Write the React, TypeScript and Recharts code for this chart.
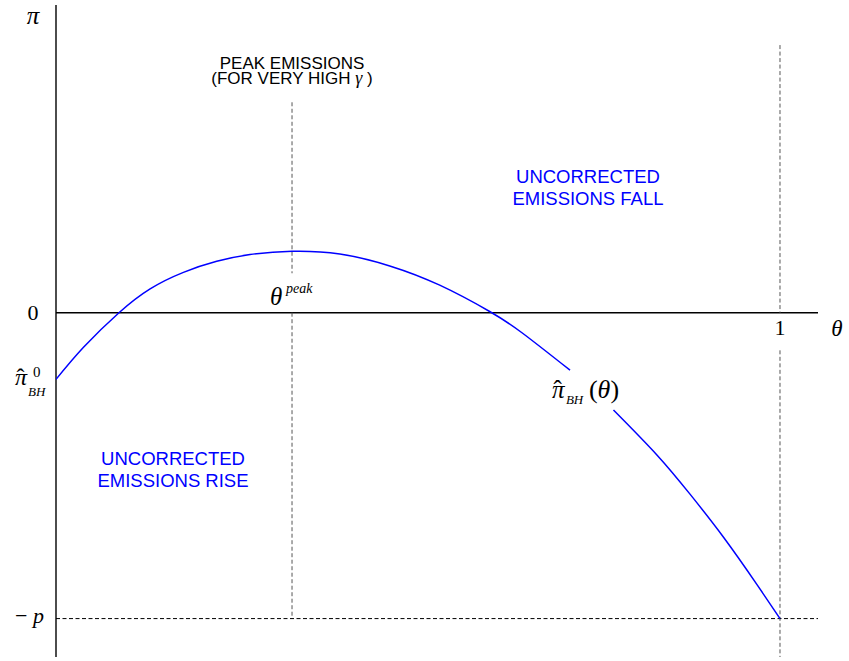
import React from "react";
import { Line, LineChart, ReferenceDot, ReferenceLine, XAxis, YAxis } from "recharts";

// curve pi_BH(theta) (p = 1); null = gap under the label
const thetaValues = [0, 0.038, 0.087, 0.13, 0.176, 0.222, 0.268, 0.326, 0.392, 0.461, 0.53, 0.599, 0.645, 0.71, 0.74, 0.77, 0.83, 0.876, 0.922, 0.968, 1];
const piValues = [-0.218, -0.113, 0, 0.078, 0.132, 0.168, 0.19, 0.201, 0.192, 0.153, 0.09, 0.004, -0.068, -0.188, null, -0.318, -0.465, -0.594, -0.734, -0.888, -1];

const thetaPeak = 0.326;
const thetaOne = 1;
const minusP = -1;
const xMax = 1.0525;
const yMin = -1.1256;
const yMax = 1.006;

const tickZero = "0";
const tickOne = "1";
const riseLabel = ["UNCORRECTED", "EMISSIONS RISE"];
const fallLabel = ["UNCORRECTED", "EMISSIONS FALL"];
const peakLabel = ["PEAK EMISSIONS", "(FOR VERY HIGH "];

const data = thetaValues.map((t, i) => ({ theta: t, pi: piValues[i] }));

const SERIF = "'Liberation Serif', 'Times New Roman', serif";
const SANS = "'Liberation Sans', Arial, sans-serif";
const BLUE = "#0000ff";

type Pt = { cx?: number; cy?: number };

const at = (x: number, y: number, draw: (cx: number, cy: number) => React.ReactElement) => (
  <ReferenceDot
    x={x}
    y={y}
    r={0}
    ifOverflow="visible"
    shape={(p: Pt) => draw(p.cx ?? 0, p.cy ?? 0)}
  />
);

export default function App() {
  return (
    <div style={{ position: "absolute", left: 0, top: 0, width: 849, height: 661, background: "#fff" }}>
      <LineChart width={849} height={661} data={data} margin={{ top: 5, right: 31, bottom: 4, left: 56 }}>
        <XAxis dataKey="theta" type="number" domain={[0, xMax]} allowDataOverflow hide />
        <YAxis type="number" domain={[yMin, yMax]} allowDataOverflow hide width={0} />

        {/* axes */}
        <ReferenceLine x={0} stroke="#000" strokeWidth={1.4} />
        <ReferenceLine y={0} stroke="#000" strokeWidth={1.4} />

        {/* dashed guides */}
        <ReferenceLine segment={[{ x: thetaPeak, y: 0.688 }, { x: thetaPeak, y: 0.129 }]} stroke="#555" strokeDasharray="4 2.5" />
        <ReferenceLine segment={[{ x: thetaPeak, y: 0 }, { x: thetaPeak, y: minusP }]} stroke="#555" strokeDasharray="4 2.5" />
        <ReferenceLine segment={[{ x: thetaOne, y: 0.875 }, { x: thetaOne, y: 0 }]} stroke="#555" strokeDasharray="4 2.5" />
        <ReferenceLine segment={[{ x: thetaOne, y: -0.123 }, { x: thetaOne, y: yMin }]} stroke="#555" strokeDasharray="4 2.5" />
        <ReferenceLine segment={[{ x: 0, y: minusP }, { x: xMax, y: minusP }]} stroke="#000" strokeDasharray="4 2.5" />

        <Line dataKey="pi" type="natural" stroke={BLUE} strokeWidth={1.5} dot={false} isAnimationActive={false} />

        {/* axis labels */}
        {at(-0.0318, 0.943, (cx, cy) => (
          <text x={cx} y={cy} textAnchor="middle" fontFamily={SERIF} fontStyle="italic" fontSize={25}>π</text>
        ))}
        {at(-0.0318, -0.0245, (cx, cy) => (
          <text x={cx} y={cy} textAnchor="middle" fontFamily={SERIF} fontSize={22}>{tickZero}</text>
        ))}
        {at(thetaOne, -0.0736, (cx, cy) => (
          <text x={cx} y={cy} textAnchor="middle" fontFamily={SERIF} fontSize={22}>{tickOne}</text>
        ))}
        {at(1.0787, -0.0768, (cx, cy) => (
          <text x={cx} y={cy} textAnchor="middle" fontFamily={SERIF} fontStyle="italic" fontSize={23}>θ</text>
        ))}
        {at(-0.0166, -1.015, (cx, cy) => (
          <text x={cx} y={cy} textAnchor="end" fontFamily={SERIF} fontSize={22}>
            <tspan>− </tspan>
            <tspan fontStyle="italic">p</tspan>
          </text>
        ))}
        {at(-0.0566, -0.237, (cx, cy) => (
          <text x={cx} y={cy} fontFamily={SERIF} fontSize={24}>
            <tspan fontStyle="italic">π</tspan>
            <tspan dx={-10.6}>ˆ</tspan>
            <tspan x={cx + 18} y={cy - 8} fontSize={15}>0</tspan>
            <tspan x={cx + 13} y={cy + 11} fontSize={13} fontStyle="italic">BH</tspan>
          </text>
        ))}
        {at(0.685, -0.2796, (cx, cy) => (
          <text x={cx} y={cy} fontFamily={SERIF} fontSize={25}>
            <tspan fontStyle="italic">π</tspan>
            <tspan dx={-11}>ˆ</tspan>
            <tspan x={cx + 14} y={cy + 6} fontSize={13} fontStyle="italic">BH</tspan>
            <tspan x={cx + 37} y={cy} fontSize={26}>(</tspan>
            <tspan fontSize={26} fontStyle="italic">θ</tspan>
            <tspan fontSize={26}>)</tspan>
          </text>
        ))}
        {at(0.2956, 0.0245, (cx, cy) => (
          <text x={cx} y={cy} fontFamily={SERIF} fontStyle="italic" fontSize={25}>
            θ
            <tspan x={cx + 16} y={cy - 12} fontSize={14}>peak</tspan>
          </text>
        ))}

        {/* annotations */}
        {at(thetaPeak, 0.796, (cx, cy) => (
          <text x={cx} y={cy} fontFamily={SANS} fontSize={17} textAnchor="middle">
            <tspan x={cx}>{peakLabel[0]}</tspan>
            <tspan x={cx} dy={14.5}>
              {peakLabel[1]}
              <tspan fontFamily={SERIF} fontStyle="italic" fontSize={18}>γ</tspan>
              {" )"}
            </tspan>
          </text>
        ))}
        {at(0.7348, 0.4235, (cx, cy) => (
          <text x={cx} y={cy} fontFamily={SANS} fontSize={18.5} textAnchor="middle" fill={BLUE}>
            <tspan x={cx}>{fallLabel[0]}</tspan>
            <tspan x={cx} dy={22}>{fallLabel[1]}</tspan>
          </text>
        ))}
        {at(0.1616, -0.4987, (cx, cy) => (
          <text x={cx} y={cy} fontFamily={SANS} fontSize={18.5} textAnchor="middle" fill={BLUE}>
            <tspan x={cx}>{riseLabel[0]}</tspan>
            <tspan x={cx} dy={22}>{riseLabel[1]}</tspan>
          </text>
        ))}
      </LineChart>
    </div>
  );
}
